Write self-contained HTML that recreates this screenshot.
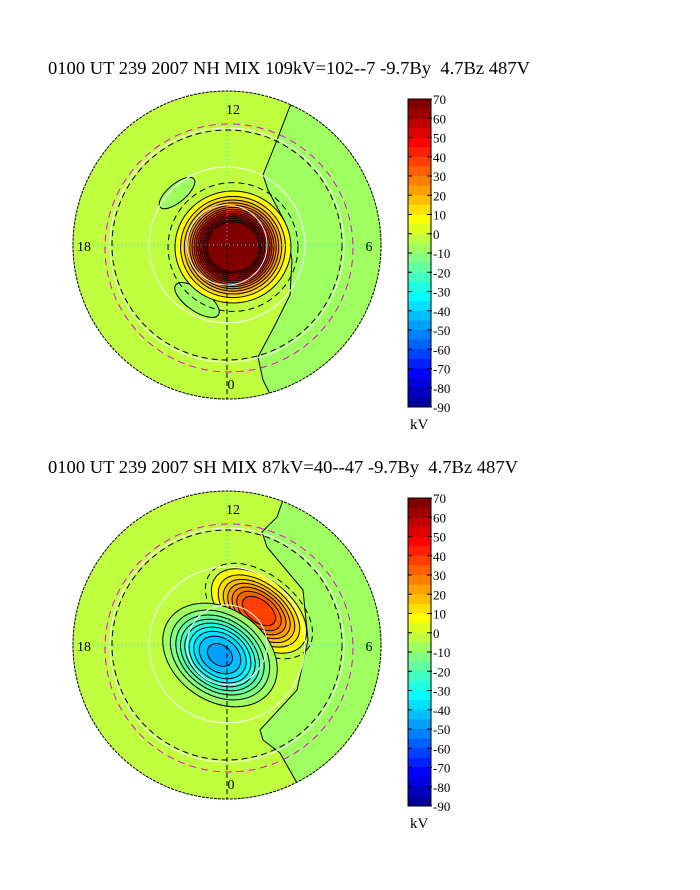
<!DOCTYPE html>
<html><head><meta charset="utf-8">
<style>
body{margin:0;background:#fff;}
svg{display:block;font-family:"Liberation Serif",serif;}
</style></head>
<body>
<svg id="fig" width="700" height="890" viewBox="0 0 700 890" xmlns="http://www.w3.org/2000/svg">
<text x="48" y="74" font-size="18" textLength="482" lengthAdjust="spacingAndGlyphs" xml:space="preserve">0100 UT 239 2007 NH MIX 109kV=102--7 -9.7By  4.7Bz 487V</text>
<text x="48" y="473" font-size="18" textLength="470" lengthAdjust="spacingAndGlyphs" xml:space="preserve">0100 UT 239 2007 SH MIX 87kV=40--47 -9.7By  4.7Bz 487V</text>
<g id="p1"></g>
<g id="p2"></g>
<g id="cb1"></g>
<g id="cb2"></g>
</svg>
<script>
// colour scale data
const cbTicks = [70,60,50,40,30,20,10,0,-10,-20,-30,-40,-50,-60,-70,-80,-90];
const cbMin = -90, cbMax = 70, levelStep = 5;
const profileExp = 2.6;
// NH potential cells: [peak kV, cx, cy, rx at 5kV, ry at 5kV, rotation deg]
const nhCells = [[102, 233, 247, 58, 56, 0]];
// SH potential cells
const shCells = [[40, 259, 611, 55, 32, 38], [-47, 220, 655, 62, 46, 35]];
// green (-10..-5) dawn-side region boundaries
const nhGreen = [[290,106],[277,140],[263,175],[268,190],[285,222],[292,260],[290,295],[275,325],[258,357],[263,380],[270,394]];
const shGreen = [[283,500],[277,517],[262,532],[267,547],[303,590],[308,640],[297,690],[260,730],[263,740],[280,753],[297,783]];
const nhSmall = [[177,193,22,9,-40],[197,300,26,11,35]];

const NS="http://www.w3.org/2000/svg";
function mk(tag, attrs, parent){const e=document.createElementNS(NS,tag);for(const k in attrs)e.setAttribute(k,attrs[k]);parent.appendChild(e);return e;}
function jet(v){const t=(v-cbMin)/(cbMax-cbMin);const c=x=>Math.round(255*Math.max(0,Math.min(1,1.5-Math.abs(4*t-x))));return `rgb(${c(3)},${c(2)},${c(1)})`;}

function cbar(g, y0){
  const x0=408,w=23,h=308;
  const ys=v=>y0+(cbMax-v)/(cbMax-cbMin)*h;
  for(let v=cbMax; v>cbMin; v-=levelStep){
    const r=mk('rect',{x:x0,y:ys(v),width:w,height:ys(v-levelStep)-ys(v)+0.5,fill:jet(v)},g);
    
    
  }
  mk('rect',{x:x0,y:y0,width:w,height:h,fill:'none',stroke:'#000'},g);
  cbTicks.forEach(v=>{
    const y=ys(v);
    mk('line',{x1:x0,x2:x0+4,y1:y,y2:y,stroke:'#000'},g);
    mk('line',{x1:x0+w-4,x2:x0+w+1,y1:y,y2:y,stroke:'#000'},g);
    const t=mk('text',{x:x0+w+2,y:y+5,'font-size':13},g);
    t.textContent=v;
    
    
  });
  const k=mk('text',{x:410,y:y0+h+22,'font-size':15},g);
  k.textContent='kV';
  
  
}

function polar(g, cx, cy, cells, green, small, seed){
  const R=154;
  const cid='clip'+seed;
  const cp=mk('clipPath',{id:cid},g); mk('circle',{cx,cy,r:R},cp);
  const b=mk('g',{'clip-path':`url(#${cid})`},g);
  mk('circle',{cx,cy,r:R,fill:jet(0)},b);
  let d='M'+green.map(p=>p.join(',')).join(' L');
  const last=green[green.length-1], first=green[0];
  d+=` L${cx+200},${last[1]+30} L${cx+200},${first[1]-30} Z`;
  const gp=mk('path',{d,fill:jet(-5),stroke:'#000','stroke-width':1},b);
  
  
  small.forEach(s=>{mk('ellipse',{cx:s[0],cy:s[1],rx:s[2],ry:s[3],transform:`rotate(${s[4]} ${s[0]} ${s[1]})`,fill:jet(-5),stroke:'#000'},b);});
  mk('circle',{cx,cy,r:115,fill:'none',stroke:'#000','stroke-dasharray':'6,4'},b);
  mk('circle',{cx:cx+2,cy:cy+3,r:124,fill:'none',stroke:'#e0e','stroke-dasharray':'7,5'},b);
  cells.forEach(c=>{
    const [P,x,y,rx5,ry5,rot]=c;
    const s=Math.sign(P), A=Math.abs(P);
    const f=Math.pow(Math.log(A/5),1/profileExp);
    const sx=rx5/f, sy=ry5/f;
    if(s>0){mk('ellipse',{cx:x,cy:y,rx:rx5*1.12,ry:ry5*1.15,transform:`rotate(${rot} ${x} ${y})`,fill:'none',stroke:'#000','stroke-dasharray':'6,4'},b);}
    for(let L=5; L<A && L<=cbMax; L+=levelStep){
      const k=Math.pow(Math.log(A/L),1/profileExp);
      const val=s>0?Math.min(L+5,cbMax):-L;
      const e=mk('ellipse',{cx:x,cy:y,rx:sx*k,ry:sy*k,transform:`rotate(${rot} ${x} ${y})`,fill:jet(val),stroke:'#000','stroke-width':1},b);
      
      
    }
  });
  [40,78,117].forEach(r=>mk('circle',{cx,cy,r,fill:'none',stroke:'#fff','stroke-width':1},b));
  mk('line',{x1:cx-R,x2:cx+R,y1:cy,y2:cy,stroke:'#3cf','stroke-dasharray':'1,3'},b);
  mk('line',{x1:cx,x2:cx,y1:cy-R,y2:cy,stroke:'#3cf','stroke-dasharray':'1,3'},b);
  mk('line',{x1:cx,x2:cx,y1:cy,y2:cy+R,stroke:'#000','stroke-dasharray':'5,3'},b);
  mk('circle',{cx,cy,r:R,fill:'none',stroke:'#000','stroke-dasharray':'3,1'},g);
  [['12',cx+6,cy-131],['18',cx-143,cy+6],['6',cx+142,cy+6],['0',cx+4,cy+144]].forEach(l=>{
    const t=mk('text',{x:l[1],y:l[2],'font-size':14,'text-anchor':'middle'},g);
    t.textContent=l[0];
    
    
  });
}
polar(document.getElementById('p1'),227,245,nhCells,nhGreen,nhSmall,1);
polar(document.getElementById('p2'),227,645,shCells,shGreen,[],2);
cbar(document.getElementById('cb1'),99);
cbar(document.getElementById('cb2'),498);
</script>
</body></html>
